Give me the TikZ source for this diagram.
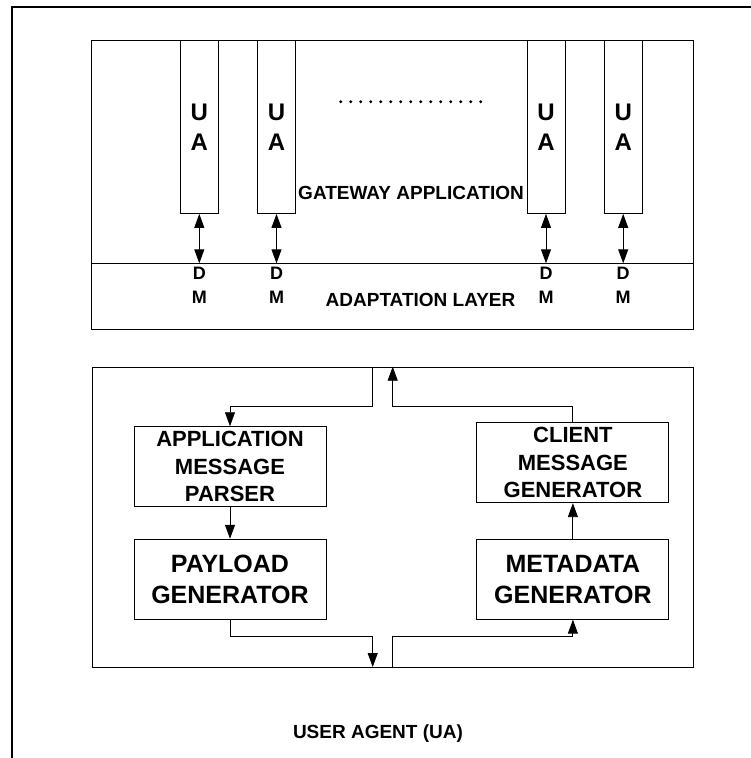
\documentclass[tikz,border=0pt]{standalone}
\usepackage{fontspec}
\setmainfont{Liberation Sans}
\usetikzlibrary{arrows.meta}

\begin{document}
\begin{tikzpicture}[x=1pt,y=-1pt,line width=0.9pt,
      flow/.style={-{Triangle[length=14pt,width=10pt]}},
      both flow/.style={{Triangle[length=14pt,width=10pt]}-{Triangle[length=14pt,width=10pt]}},
      ua node/.style={draw,anchor=north,minimum width=38pt,minimum height=173pt,inner sep=0pt,align=center,font=\bfseries\fontsize{24}{30}\selectfont},
      dm node/.style={anchor=north,inner xsep=1pt,inner ysep=3.5pt,align=center,font=\bfseries\fontsize{18}{23.5}\selectfont},
      block/.style={draw,minimum width=192pt,minimum height=80pt,inner sep=0pt,align=center},
      small block/.style={block,font=\bfseries\fontsize{22}{27.5}\selectfont},
      big block/.style={block,font=\bfseries\fontsize{25}{31}\selectfont},
      layer/.style={draw,anchor=north west,inner sep=0pt},
      caption/.style={font=\bfseries\fontsize{19}{23}\selectfont}]
      \useasboundingbox (0,0) rectangle (751,758);
      \draw[line width=2.2pt] (11.7,770) -- (11.7,7.3) -- (770,7.3);

      % gateway application with its user agents
      \node[layer,minimum width=601.7pt,minimum height=289pt] (gateway) at (91,40) {};
      \draw (91,263.3) -- (692.7,263.3);
      \foreach \x [count=\i] in {199.3,276.5,546,623.2} {
        \node[ua node] (ua\i) at (\x,40) {U\\A};
        \node[dm node] (dm\i) at (\x,263.3) {D\\M};
        \draw[both flow] (ua\i.south) -- (dm\i.north);
      }
      \foreach \i in {0,...,14}
        \fill (340.7+10*\i,101.7) circle (1.6pt);
      \node[caption] (gwname) at (411,193) {GATEWAY APPLICATION};
      \node[caption] (adname) at (420.5,300) {ADAPTATION LAYER};

      % inside one user agent
      \node[layer,minimum width=600.7pt,minimum height=300.3pt] (agent) at (92,366.7) {};
      \node[small block] (parser) at (230,466.7) {APPLICATION\\MESSAGE\\PARSER};
      \node[big block] (payload) at (230,579.2) {PAYLOAD\\GENERATOR};
      \node[small block] (client) at (572.9,462.7) {CLIENT\\MESSAGE\\GENERATOR};
      \node[big block] (metadata) at (572.9,579.2) {METADATA\\GENERATOR};
      \node[caption] (agname) at (378,734) {USER AGENT (UA)};

      \coordinate (top in) at (372.7,366.7);
      \coordinate (top out) at (392.7,366.7);
      \coordinate (split) at (372.7,406.7);
      \coordinate (merge) at (392.7,406.7);
      \coordinate (bottom in) at (372.7,667);
      \coordinate (bottom out) at (392.7,667);
      \coordinate (join a) at (372.7,636);
      \coordinate (join b) at (392.7,636);

      \draw[flow] (top in) -- (split) -| (parser.north);
      \draw[flow] (parser) -- (payload);
      \draw[flow] (payload.south) |- (join a) -- (bottom in);
      \draw[flow] (bottom out) -- (join b) -| (metadata.south);
      \draw[flow] (metadata) -- (client);
      \draw[flow] (client.north) |- (merge) -- (top out);
\end{tikzpicture}
\end{document}
